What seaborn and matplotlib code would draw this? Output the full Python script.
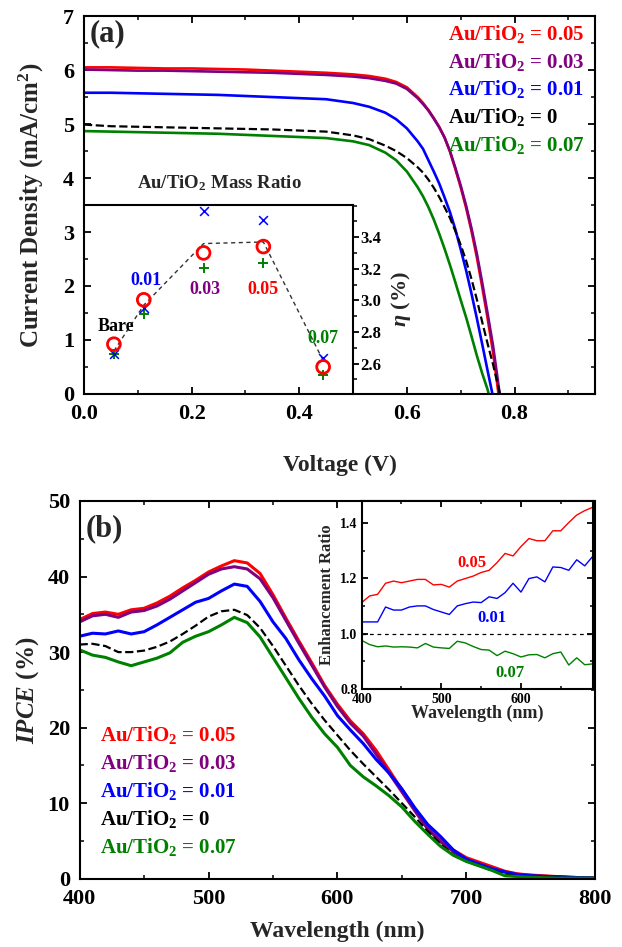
import matplotlib
matplotlib.use("Agg")
import matplotlib.pyplot as plt
from matplotlib.ticker import MultipleLocator, FixedLocator, FormatStrFormatter
import seaborn as sns

# ---------------- Panel (a): J-V curves ----------------
voltage = [0.00, 0.05, 0.10, 0.15, 0.20, 0.25, 0.30, 0.35, 0.40, 0.45, 0.50,
           0.53, 0.56, 0.58, 0.60, 0.62, 0.63, 0.64, 0.65, 0.66, 0.67, 0.68,
           0.69, 0.70, 0.71, 0.72, 0.73, 0.74, 0.75, 0.76, 0.77, 0.78]
jv_005 = [6.05, 6.05, 6.04, 6.03, 6.03, 6.02, 6.01, 5.99, 5.97, 5.95, 5.92,
          5.89, 5.84, 5.78, 5.68, 5.50, 5.39, 5.26, 5.11, 4.95, 4.75, 4.49,
          4.17, 3.83, 3.45, 3.02, 2.53, 1.98, 1.40, 0.78, 0.02, -0.80]
jv_003 = [6.01, 6.00, 5.99, 5.99, 5.98, 5.97, 5.96, 5.95, 5.93, 5.91, 5.88,
          5.85, 5.80, 5.75, 5.65, 5.48, 5.37, 5.25, 5.10, 4.94, 4.75, 4.50,
          4.19, 3.86, 3.49, 3.07, 2.60, 2.06, 1.49, 0.90, 0.18, -0.60]
jv_001 = [5.58, 5.58, 5.57, 5.56, 5.55, 5.54, 5.52, 5.50, 5.48, 5.46, 5.39,
          5.32, 5.21, 5.09, 4.92, 4.68, 4.54, 4.33, 4.12, 3.90, 3.64, 3.37,
          3.05, 2.68, 2.29, 1.86, 1.40, 0.92, 0.43, -0.05, -0.60, -1.20]
jv_000 = [4.99, 4.96, 4.95, 4.94, 4.93, 4.92, 4.91, 4.90, 4.88, 4.86, 4.79,
          4.72, 4.60, 4.50, 4.37, 4.20, 4.10, 3.97, 3.82, 3.65, 3.46, 3.26,
          3.02, 2.76, 2.47, 2.13, 1.75, 1.33, 0.93, 0.55, 0.13, -0.30]
jv_007 = [4.87, 4.86, 4.85, 4.84, 4.83, 4.82, 4.80, 4.78, 4.76, 4.74, 4.68,
          4.61, 4.47, 4.33, 4.12, 3.83, 3.66, 3.46, 3.23, 2.97, 2.69, 2.39,
          2.07, 1.74, 1.42, 1.07, 0.71, 0.38, 0.08, -0.30, -0.70, -1.10]

ratio_labels = ["0.05", "0.03", "0.01", "0", "0.07"]
ratio_colors = ["#ff0000", "#800080", "#0000ff", "#000000", "#008000"]
ratio_styles = ["-", "-", "-", "--", "-"]

# Inset: efficiency versus Au/TiO2 mass ratio
mass_x = [0.0556, 0.1111, 0.2222, 0.3333, 0.4444]
mass_names = ["Bare", "0.01", "0.03", "0.05", "0.07"]
mass_name_colors = ["#000000", "#0000ff", "#800080", "#ff0000", "#008000"]
eta_circle = [2.723, 3.004, 3.301, 3.341, 2.579]
eta_cross = [2.660, 2.952, 3.565, 3.511, 2.638]
eta_plus = [2.660, 2.917, 3.206, 3.240, 2.526]
eta_trend = [2.68, 2.97, 3.36, 3.37, 2.62]
eta_ticks = [2.6, 2.8, 3.0, 3.2, 3.4]

# ---------------- Panel (b): IPCE spectra ----------------
wavelength = list(range(400, 801, 10))
ipce_005 = [34.3, 35.1, 35.3, 35.0, 35.6, 35.8, 36.5, 37.4, 38.5, 39.5, 40.6,
            41.4, 42.1, 41.8, 40.4, 37.6, 34.5, 31.5, 28.6, 25.6, 23.1, 20.9,
            19.2, 17.0, 14.4, 11.8, 9.3, 6.8, 5.1, 3.8, 2.8, 2.2, 1.6, 1.0,
            0.65, 0.5, 0.4, 0.3, 0.2, 0.15, 0.1]
ipce_003 = [34.0, 34.8, 35.0, 34.6, 35.3, 35.5, 36.1, 37.0, 38.1, 39.2, 40.3,
            41.0, 41.3, 41.0, 39.7, 37.2, 34.2, 31.2, 28.3, 25.4, 22.8, 20.6,
            18.9, 16.5, 14.0, 11.5, 9.0, 6.6, 4.9, 3.6, 2.6, 2.0, 1.4, 0.9,
            0.6, 0.45, 0.35, 0.25, 0.2, 0.15, 0.1]
ipce_001 = [32.1, 32.5, 32.4, 32.8, 32.4, 32.7, 33.6, 34.6, 35.6, 36.6, 37.1,
            38.1, 39.0, 38.7, 36.7, 34.0, 31.8, 29.0, 26.5, 24.2, 21.6, 19.7,
            17.9, 15.8, 14.0, 11.9, 9.4, 7.2, 5.6, 3.8, 2.6, 1.9, 1.3, 0.9,
            0.5, 0.4, 0.3, 0.3, 0.2, 0.15, 0.1]
ipce_000 = [31.0, 31.1, 30.8, 30.0, 30.0, 30.2, 30.7, 31.4, 32.4, 33.5, 34.7,
            35.4, 35.6, 34.9, 33.2, 30.8, 28.2, 25.6, 23.2, 21.0, 19.0, 17.0,
            15.2, 13.5, 11.8, 10.0, 8.2, 6.3, 4.6, 3.2, 2.3, 1.7, 1.1, 0.6,
            0.3, 0.2, 0.2, 0.15, 0.1, 0.1, 0.1]
ipce_007 = [30.3, 29.6, 29.3, 28.7, 28.2, 28.7, 29.2, 29.9, 31.3, 32.1, 32.7,
            33.6, 34.6, 33.9, 32.0, 29.3, 26.6, 23.9, 21.4, 19.2, 17.4, 15.0,
            13.5, 12.3, 11.0, 9.5, 7.6, 5.9, 4.3, 3.1, 2.3, 1.7, 1.1, 0.4,
            0.3, 0.2, 0.15, 0.1, 0.1, 0.1, 0.1]

# Inset: enhancement ratio relative to bare TiO2
ratio_wl = list(range(400, 691, 10))
enh_005 = [1.112, 1.136, 1.142, 1.182, 1.190, 1.184, 1.190, 1.196, 1.196, 1.176,
           1.178, 1.168, 1.190, 1.199, 1.208, 1.221, 1.229, 1.257, 1.290, 1.281,
           1.315, 1.344, 1.336, 1.336, 1.372, 1.372, 1.402, 1.429, 1.445, 1.457]
enh_001 = [1.042, 1.042, 1.042, 1.096, 1.085, 1.085, 1.096, 1.100, 1.100, 1.087,
           1.078, 1.069, 1.100, 1.108, 1.114, 1.112, 1.133, 1.127, 1.148, 1.182,
           1.150, 1.199, 1.205, 1.187, 1.241, 1.239, 1.229, 1.267, 1.245, 1.279]
enh_007 = [0.975, 0.960, 0.952, 0.955, 0.951, 0.952, 0.951, 0.948, 0.964, 0.951,
           0.948, 0.946, 0.972, 0.966, 0.953, 0.942, 0.940, 0.920, 0.936, 0.927,
           0.915, 0.923, 0.924, 0.912, 0.927, 0.933, 0.886, 0.912, 0.887, 0.890]

# ---------------- styling ----------------
sns.set_theme(style="ticks")
plt.rcParams.update({
    "font.family": ["Liberation Serif", "DejaVu Serif"],
    "font.weight": "bold",
    "axes.labelweight": "bold",
    "mathtext.fontset": "custom",
    "mathtext.rm": "Liberation Serif:bold",
    "mathtext.it": "Liberation Serif:italic:bold",
    "mathtext.bf": "Liberation Serif:bold",
    "axes.linewidth": 1.5,
    "axes.edgecolor": "black",
    "xtick.direction": "in",
    "ytick.direction": "in",
    "xtick.top": True,
    "ytick.right": True,
    "xtick.major.size": 5,
    "ytick.major.size": 5,
    "xtick.minor.size": 3,
    "ytick.minor.size": 3,
    "xtick.major.width": 1.3,
    "ytick.major.width": 1.3,
    "xtick.minor.width": 1.1,
    "ytick.minor.width": 1.1,
    "xtick.color": "black",
    "ytick.color": "black",
})

fig = plt.figure(figsize=(6.22, 9.47), dpi=100)
ax_a = fig.add_axes([0.135, 0.584, 0.822, 0.399])
ax_b = fig.add_axes([0.128, 0.072, 0.829, 0.399])

# ---- panel (a)
jv_series = [jv_005, jv_003, jv_001, jv_000, jv_007]
for ys, c, ls in zip(jv_series, ratio_colors, ratio_styles):
    sns.lineplot(x=voltage, y=ys, ax=ax_a, color=c, linestyle=ls,
                 lw=1.6 if ls == "--" else 1.9, estimator=None, sort=False)
ax_a.set_xlim(0, 0.95)
ax_a.set_ylim(0, 7)
ax_a.xaxis.set_major_locator(MultipleLocator(0.2))
ax_a.xaxis.set_minor_locator(MultipleLocator(0.1))
ax_a.yaxis.set_major_locator(MultipleLocator(1))
ax_a.yaxis.set_minor_locator(MultipleLocator(0.5))
ax_a.xaxis.set_major_formatter(FormatStrFormatter("%.1f"))
ax_a.tick_params(which="both", labelsize=16, pad=7)
ax_a.set_xlabel("Voltage (V)", fontsize=17)
ax_a.set_ylabel("Current Density (mA/cm$^{2}$)", fontsize=18)
ax_a.xaxis.set_label_coords(0.5, -0.16)
ax_a.yaxis.set_label_coords(-0.075, 0.5)
ax_a.text(0.011, 6.68, "(a)", fontsize=22, va="center", ha="left")
for i, (lab, c) in enumerate(zip(ratio_labels, ratio_colors)):
    ax_a.text(0.677, 6.55 - 0.51 * i, "Au/TiO$_2$ = " + lab, color=c,
              fontsize=15, ha="left", va="baseline")

# inset of panel (a), sharing the lower-left corner of the main frame
ax_in = ax_a.inset_axes([0, 0, 0.5, 3.5], transform=ax_a.transData)
ax_in.patch.set_alpha(0)
ax_in.set_xlim(0, 0.5)
ax_in.set_ylim(2.408, 3.604)
for side in ("left", "bottom"):
    ax_in.spines[side].set_visible(False)
for side in ("top", "right"):
    ax_in.spines[side].set_linewidth(1.5)
sns.lineplot(x=mass_x, y=eta_trend, ax=ax_in, color="#333333", lw=1.0,
             linestyle=(0, (3, 2.5)), estimator=None, sort=False)
sns.scatterplot(x=mass_x, y=eta_plus, ax=ax_in, marker="+", s=60,
                color="#008000", linewidth=1.4, zorder=3)
sns.scatterplot(x=mass_x, y=eta_cross, ax=ax_in, marker="x", s=40,
                color="#0000ff", linewidth=1.1, zorder=3)
sns.scatterplot(x=mass_x, y=eta_circle, ax=ax_in, marker="o", s=85,
                facecolor="none", edgecolor="#ff0000", linewidth=2.0, zorder=4)
ax_in.tick_params(which="both", bottom=False, top=False, left=False,
                  labelbottom=False, labelleft=False, right=True,
                  labelright=True, direction="out", labelsize=12, pad=1.5)
ax_in.tick_params(which="major", length=4)
ax_in.tick_params(which="minor", length=3)
ax_in.yaxis.set_major_locator(FixedLocator(eta_ticks))
ax_in.yaxis.set_minor_locator(MultipleLocator(0.1))
ax_in.yaxis.set_major_formatter(FormatStrFormatter("%.1f"))
ax_in.yaxis.set_label_position("right")
ax_in.set_ylabel(r"$\eta$ (%)", fontsize=16, rotation=90)
ax_in.yaxis.set_label_coords(1.135, 0.5)
name_offsets = [(0.003, 0.115), (0.004, 0.12), (0.002, -0.23), (0.0, -0.27), (0.0, 0.18)]
for x, e, name, c, (dx, de) in zip(mass_x, eta_circle, mass_names,
                                   mass_name_colors, name_offsets):
    ax_in.text(x + dx, e + de, name, color=c, fontsize=13, ha="center", va="center")
ax_a.text(0.252, 3.9, "Au/TiO$_2$ Mass Ratio", fontsize=13.5, ha="center", va="center")

# ---- panel (b)
ipce_series = [ipce_005, ipce_003, ipce_001, ipce_000, ipce_007]
for ys, c, ls in zip(ipce_series, ratio_colors, ratio_styles):
    sns.lineplot(x=wavelength, y=ys, ax=ax_b, color=c, linestyle=ls,
                 lw=1.6 if ls == "--" else 2.2, estimator=None, sort=False)
ax_b.set_xlim(400, 800)
ax_b.set_ylim(0, 50)
ax_b.xaxis.set_major_locator(MultipleLocator(100))
ax_b.xaxis.set_minor_locator(MultipleLocator(50))
ax_b.yaxis.set_major_locator(MultipleLocator(10))
ax_b.yaxis.set_minor_locator(MultipleLocator(5))
ax_b.tick_params(which="both", labelsize=16, pad=7)
ax_b.set_xlabel("Wavelength (nm)", fontsize=17)
ax_b.set_ylabel("$IPCE$ (%)", fontsize=18)
ax_b.xaxis.set_label_coords(0.5, -0.11)
ax_b.yaxis.set_label_coords(-0.075, 0.5)
ax_b.text(405, 46.3, "(b)", fontsize=22, va="center", ha="left")
for i, (lab, c) in enumerate(zip(ratio_labels, ratio_colors)):
    ax_b.text(416, 18.2 - 3.7 * i, "Au/TiO$_2$ = " + lab, color=c,
              fontsize=15, ha="left", va="baseline")

# inset of panel (b)
ax_er = ax_b.inset_axes([0.547, 0.503, 0.448, 0.497])
ax_er.set_facecolor("white")
for ys, c in zip([enh_005, enh_001, enh_007], ["#ff0000", "#0000ff", "#008000"]):
    sns.lineplot(x=ratio_wl, y=ys, ax=ax_er, color=c, lw=1.0,
                 estimator=None, sort=False)
ax_er.axhline(1.0, color="black", lw=0.9, linestyle=(0, (3, 3)))
ax_er.set_xlim(400, 690)
ax_er.set_ylim(0.8, 1.48)
for side in ax_er.spines.values():
    side.set_linewidth(1.5)
ax_er.xaxis.set_major_locator(MultipleLocator(100))
ax_er.xaxis.set_minor_locator(MultipleLocator(50))
ax_er.yaxis.set_major_locator(MultipleLocator(0.2))
ax_er.yaxis.set_minor_locator(MultipleLocator(0.1))
ax_er.yaxis.set_major_formatter(FormatStrFormatter("%.1f"))
ax_er.tick_params(which="both", labelsize=10, pad=3, top=True, right=True)
ax_er.tick_params(which="major", length=4)
ax_er.tick_params(which="minor", length=2.5)
ax_er.set_xlabel("Wavelength (nm)", fontsize=13)
ax_er.set_ylabel("Enhancement Ratio", fontsize=12)
ax_er.xaxis.set_label_coords(0.5, -0.085)
ax_er.yaxis.set_label_coords(-0.115, 0.5)
ax_er.text(538, 1.255, "0.05", color="#ff0000", fontsize=12, ha="center", va="center")
ax_er.text(564, 1.058, "0.01", color="#0000ff", fontsize=12, ha="center", va="center")
ax_er.text(586, 0.858, "0.07", color="#008000", fontsize=12, ha="center", va="center")

fig.savefig("out.png", dpi=100)
